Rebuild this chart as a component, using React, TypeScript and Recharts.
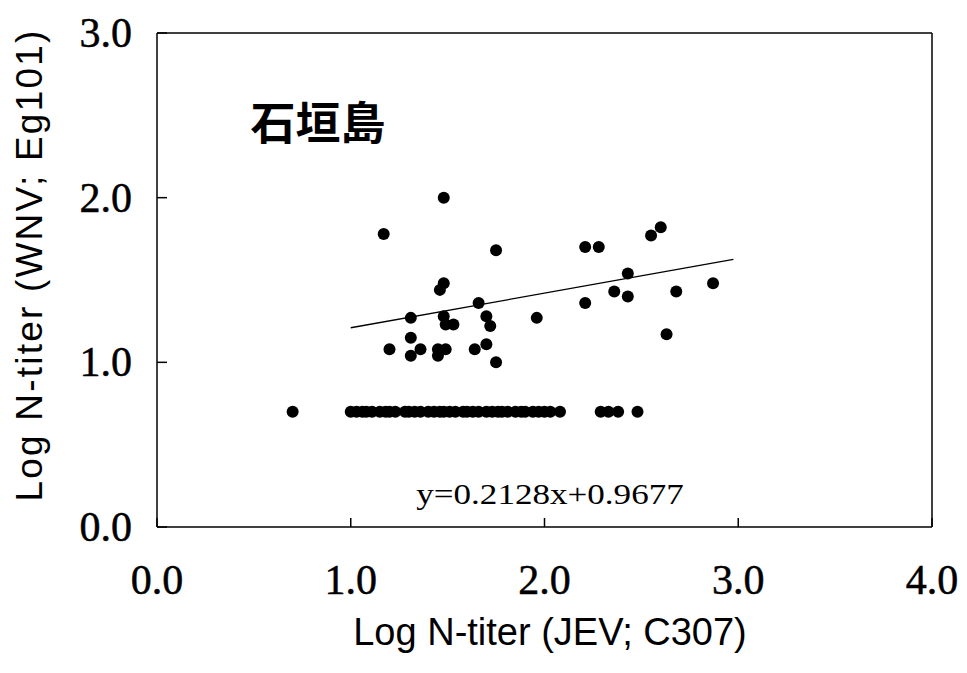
import { Customized, ReferenceLine, Scatter, ScatterChart, XAxis, YAxis } from "recharts"

// points above the detection floor (x = JEV titer, y = WNV titer)
const upperX = [1.48, 1.17, 1.75, 1.48, 1.46, 1.66, 1.31, 1.48, 1.49, 1.53, 1.7, 1.72, 1.96, 1.31, 1.2, 1.31, 1.36, 1.45, 1.49, 1.45, 1.64, 1.7, 1.75, 2.21, 2.28, 2.55, 2.6, 2.43, 2.36, 2.43, 2.68, 2.87, 2.21, 2.63]
const upperY = [2.0, 1.78, 1.68, 1.48, 1.44, 1.36, 1.27, 1.28, 1.23, 1.23, 1.28, 1.22, 1.27, 1.15, 1.08, 1.04, 1.08, 1.08, 1.08, 1.04, 1.08, 1.11, 1.0, 1.7, 1.7, 1.77, 1.82, 1.54, 1.43, 1.4, 1.43, 1.48, 1.36, 1.17]

// points sitting on the floor value
const floorValue = 0.7
const floorX = [0.7, 1.0, 1.03, 1.06, 1.08, 1.11, 1.15, 1.18, 1.2, 1.23, 1.28, 1.3, 1.33, 1.36, 1.4, 1.43, 1.46, 1.48, 1.51, 1.54, 1.58, 1.6, 1.63, 1.66, 1.7, 1.73, 1.76, 1.78, 1.81, 1.85, 1.88, 1.9, 1.94, 1.97, 2.0, 2.03, 2.08, 2.29, 2.33, 2.38, 2.48]

// regression line end points
const trendX = [1.0, 2.975]
const trendY = [1.21, 1.625]

const xTicks = [0, 1, 2, 3, 4]
const yTicks = [0, 1, 2, 3]

const points = [
  ...upperX.map((x, i) => ({ x, y: upperY[i] })),
  ...floorX.map((x) => ({ x, y: floorValue })),
]
const trend = trendX.map((x, i) => ({ x, y: trendY[i] }))

const serif = "'Liberation Serif', 'Times New Roman', serif"
const sans = "'Liberation Sans', Arial, sans-serif"

// ticks point into the plot, labels sit outside
const XTick = (props: any) => {
  const { x, payload } = props
  return (
    <g>
      <line x1={x} x2={x} y1={527} y2={518} stroke="#000" strokeWidth={1.5} />
      <text x={x} y={594} textAnchor="middle" fontFamily={serif} fontSize={42} fill="#000" stroke="#000" strokeWidth={0.5}>
        {payload.value.toFixed(1)}
      </text>
    </g>
  )
}

const YTick = (props: any) => {
  const { y, payload } = props
  return (
    <g>
      <line x1={157} x2={167} y1={y} y2={y} stroke="#000" strokeWidth={1.5} />
      <text x={132} y={y + 14} textAnchor="end" fontFamily={serif} fontSize={42} fill="#000" stroke="#000" strokeWidth={0.5}>
        {payload.value.toFixed(1)}
      </text>
    </g>
  )
}

const Dot = (props: any) => <circle cx={props.cx} cy={props.cy} r={6} fill="#000" />

const Texts = () => (
  <g>
    <text x={318} y={140} textAnchor="middle" fontFamily="'Noto Sans CJK JP', sans-serif" fontWeight={700} fontSize={45} fill="#000">
      石垣島
    </text>
    <text transform="translate(550 504) scale(1.17 1)" textAnchor="middle" fontFamily={serif} fontSize={30} fill="#000">
      y=0.2128x+0.9677
    </text>
    <text x={550} y={645} textAnchor="middle" fontFamily={sans} fontSize={38} fill="#000">
      Log N-titer (JEV; C307)
    </text>
    <text transform="translate(42 265) rotate(-90)" textAnchor="middle" fontFamily={sans} fontSize={37} letterSpacing={2.2} fill="#000">
      Log N-titer (WNV; Eg101)
    </text>
  </g>
)

export default function App() {
  return (
    <div style={{ position: "absolute", left: 0, top: 0, width: 967, height: 673, background: "#fff" }}>
      <ScatterChart width={967} height={673} margin={{ top: 33, right: 35, bottom: 66, left: 37 }}>
        <XAxis
          type="number"
          dataKey="x"
          domain={[0, 4]}
          ticks={xTicks}
          height={80}
          stroke="#000"
          strokeWidth={1.5}
          tickLine={false}
          tick={<XTick />}
        />
        <YAxis
          type="number"
          dataKey="y"
          domain={[0, 3]}
          ticks={yTicks}
          width={120}
          stroke="#000"
          strokeWidth={1.5}
          tickLine={false}
          tick={<YTick />}
        />
        <ReferenceLine y={3} stroke="#000" strokeWidth={1.5} />
        <ReferenceLine x={4} stroke="#000" strokeWidth={1.5} />
        <Scatter data={points} shape={<Dot />} isAnimationActive={false} />
        <Scatter
          data={trend}
          line={{ stroke: "#000", strokeWidth: 1.3 }}
          shape={() => <g />}
          isAnimationActive={false}
        />
        <Customized component={<Texts />} />
      </ScatterChart>
    </div>
  )
}
